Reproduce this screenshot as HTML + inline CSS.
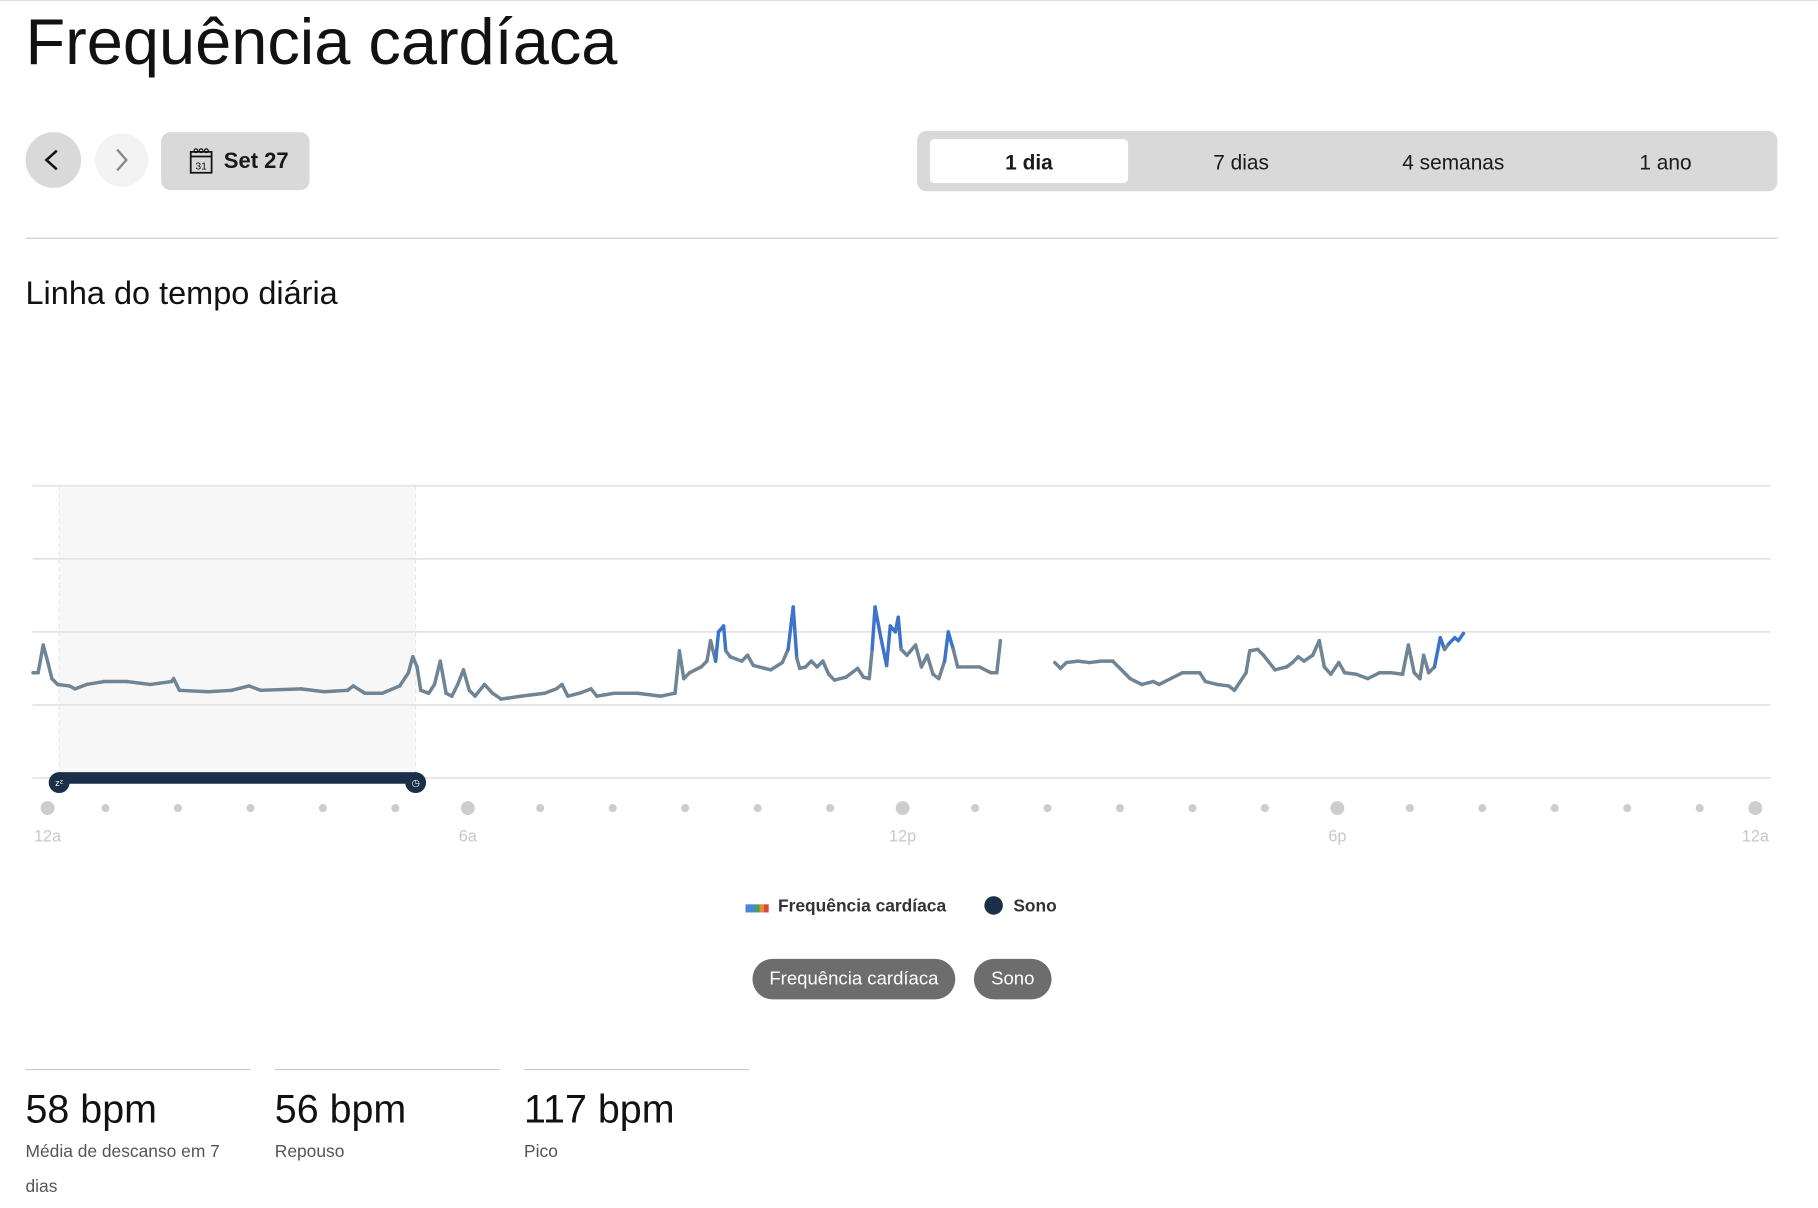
<!DOCTYPE html>
<html><head><meta charset="utf-8">
<style>
html,body{margin:0;padding:0;background:#fff;overflow:hidden}
body{width:1818px;height:1208px;position:relative;font-family:"Liberation Sans",sans-serif;color:#1a1a1a}
#root{position:absolute;left:0;top:0;width:1568px;height:1042px;transform:scale(1.1594);transform-origin:0 0}
.abs{position:absolute}
.seg{position:absolute;top:114px;height:52px;line-height:52px;font-size:18px;text-align:center;width:183px}
.stat-line{position:absolute;top:922px;height:1px;width:194px;background:#c8c8c8}
.stat-val{position:absolute;top:938px;font-size:34px;color:#111}
.stat-lab{position:absolute;top:979px;font-size:15px;color:#555;line-height:30px;width:194px}
</style></head><body>
<div id="root">
<div class="abs" style="left:0;top:0;width:1568px;height:1px;background:#e2e2e2"></div>
<div class="abs" style="left:22px;top:3px;font-size:56px;color:#111">Frequência cardíaca</div>

<div class="abs" style="left:22px;top:114px;width:48px;height:48px;border-radius:50%;background:#d9d9d9">
<svg width="48" height="48"><path d="M29 27 L20 19 L29 11" transform="translate(-2,5)" fill="none" stroke="#111" stroke-width="2.2"/></svg></div>
<div class="abs" style="left:82px;top:115px;width:46px;height:46px;border-radius:50%;background:#f3f3f3">
<svg width="46" height="46"><path d="M19 14 L27 23 L19 32" fill="none" stroke="#888" stroke-width="2"/></svg></div>
<div class="abs" style="left:139px;top:114px;width:128px;height:50px;border-radius:8px;background:#d9d9d9">
<svg class="abs" style="left:24px;top:13px" width="22" height="24"><rect x="1.5" y="4" width="18" height="18" fill="none" stroke="#111" stroke-width="1.5"/><line x1="1.5" y1="8" x2="19.5" y2="8" stroke="#111" stroke-width="1.5"/><circle cx="6" cy="3" r="1.6" fill="none" stroke="#111"/><circle cx="10.5" cy="3" r="1.6" fill="none" stroke="#111"/><circle cx="15" cy="3" r="1.6" fill="none" stroke="#111"/><text x="10.5" y="19" font-size="9" text-anchor="middle" font-family="Liberation Sans" fill="#111">31</text></svg>
<span class="abs" style="left:54px;top:15px;font-size:19px;font-weight:bold">Set 27</span></div>

<div class="abs" style="left:791px;top:113px;width:742px;height:52px;border-radius:8px;background:#d9d9d9"></div>
<div class="abs" style="left:802px;top:120px;width:171px;height:38px;border-radius:4px;background:#fff"></div>
<div class="seg" style="left:796px;font-weight:bold">1 dia</div>
<div class="seg" style="left:979px">7 dias</div>
<div class="seg" style="left:1162px">4 semanas</div>
<div class="seg" style="left:1345px">1 ano</div>

<div class="abs" style="left:22px;top:205px;width:1511px;height:1px;background:#c8c8c8"></div>
<div class="abs" style="left:22px;top:237px;font-size:28px;color:#111">Linha do tempo diária</div>

<svg id="chart" class="abs" style="left:0;top:400px" width="1568" height="340"></svg>

<div class="abs" style="left:643px;top:780px;width:20px;height:7px;background:linear-gradient(90deg,#4a86d8 0 40%,#4aa05a 40% 60%,#e08a3a 60% 80%,#d84a3a 80%)"></div>
<div class="abs" style="left:671px;top:773px;font-size:15px;font-weight:bold;color:#333">Frequência cardíaca</div>
<div class="abs" style="left:849px;top:773px;width:16px;height:16px;border-radius:50%;background:#1b3048"></div>
<div class="abs" style="left:874px;top:773px;font-size:15px;font-weight:bold;color:#333">Sono</div>

<div class="abs" style="left:649px;top:827px;width:175px;height:35px;border-radius:18px;background:#6d6d6d;color:#fff;font-size:16px;line-height:35px;text-align:center">Frequência cardíaca</div>
<div class="abs" style="left:840px;top:827px;width:67px;height:35px;border-radius:18px;background:#6d6d6d;color:#fff;font-size:16px;line-height:35px;text-align:center">Sono</div>

<div class="stat-line" style="left:22px"></div>
<div class="stat-line" style="left:237px"></div>
<div class="stat-line" style="left:452px"></div>
<div class="stat-val" style="left:22px">58 bpm</div>
<div class="stat-val" style="left:237px">56 bpm</div>
<div class="stat-val" style="left:452px">117 bpm</div>
<div class="stat-lab" style="left:22px">Média de descanso em 7 dias</div>
<div class="stat-lab" style="left:237px">Repouso</div>
<div class="stat-lab" style="left:452px">Pico</div>
</div>
<script>
const hours=[0,0.07,0.14,0.2,0.26,0.34,0.5,0.58,0.74,0.98,1.3,1.62,1.91,1.94,2.02,2.42,2.74,2.98,3.14,3.7,4.02,4.34,4.42,4.58,4.82,5.06,5.18,5.24,5.3,5.35,5.46,5.54,5.62,5.7,5.78,5.86,5.94,6.02,6.1,6.23,6.34,6.46,6.74,7.06,7.22,7.3,7.38,7.54,7.7,7.78,8.02,8.34,8.66,8.86,8.92,8.98,9.06,9.14,9.22,9.3,9.35,9.42,9.46,9.53,9.56,9.62,9.78,9.86,9.94,10.1,10.18,10.34,10.42,10.49,10.54,10.58,10.66,10.74,10.82,10.9,10.98,11.06,11.22,11.38,11.46,11.54,11.58,11.62,11.7,11.78,11.83,11.9,11.94,11.98,12.06,12.18,12.26,12.34,12.42,12.5,12.58,12.63,12.7,12.76,12.9,13.06,13.22,13.3,13.35,13.7,
14.1,14.18,14.26,14.42,14.58,14.74,14.9,14.98,15.06,15.14,15.22,15.3,15.46,15.54,15.7,15.86,16.1,16.18,16.34,16.5,16.58,16.66,16.74,16.79,16.9,16.98,17.06,17.14,17.3,17.38,17.46,17.54,17.66,17.75,17.82,17.91,18.02,18.1,18.26,18.42,18.58,18.74,18.9,18.98,19.06,19.14,19.19,19.26,19.34,19.42,19.48,19.54,19.62,19.67,19.74];
const bpm=[72,72,91,80,68,64,63,61,64,66,66,64,66,68,60,59,60,63,60,61,59,60,63,58,58,63,72,83,76,60,58,64,80,58,56,64,74,60,56,64,58,54,56,58,61,64,56,58,61,56,58,58,56,58,87,68,72,74,76,80,94,80,100,104,87,83,80,84,77,75,74,79,88,117,82,75,76,80,76,80,71,67,69,75,69,68,88,117,96,77,104,100,110,88,84,91,76,84,71,68,80,100,88,76,76,76,72,72,94,null,
79,75,79,80,79,80,80,76,72,68,66,64,66,64,68,72,72,66,64,63,60,66,72,87,88,84,79,74,76,79,83,80,84,94,76,71,79,72,71,68,72,72,71,91,72,68,84,72,76,96,88,92,96,94,99];
const gridVals=[0,50,100,150,200];
const xTickLabels=["12a","6a","12p","6p","12a"];
const xTickHours=[0,6,12,18,24];
const sleepStart=0.36, sleepEnd=5.28;

const NS="http://www.w3.org/2000/svg";
const svg=document.getElementById('chart');
const OY=400;
function xs(h){return 28.5+62.5*h;}
function ys(v){return 671-1.26*v-OY;}
function mk(t,a,p){const e=document.createElementNS(NS,t);for(const k in a)e.setAttribute(k,a[k]);(p||svg).appendChild(e);return e;}

const shade=mk('rect',{x:xs(sleepStart),y:ys(200),width:xs(sleepEnd)-xs(sleepStart),height:ys(0)-ys(200),fill:'#f7f7f7'});


[sleepStart,sleepEnd].forEach(h=>{
 const l=mk('line',{x1:xs(h),x2:xs(h),y1:ys(200),y2:ys(0),stroke:'#e6e6e6','stroke-dasharray':'4 3'});
 
 
});
gridVals.forEach(v=>{
 const g=mk('line',{x1:28,x2:1527,y1:ys(v),y2:ys(v),stroke:'#e4e4e4','stroke-width':1.5});
 
 
});
for(let i=0;i<hours.length-1;i++){
 if(bpm[i]==null||bpm[i+1]==null)continue;
 const hi=Math.max(bpm[i],bpm[i+1])>=95;
 const s=mk('line',{x1:xs(hours[i]),y1:ys(bpm[i]),x2:xs(hours[i+1]),y2:ys(bpm[i+1]),stroke:hi?'#3c74c9':'#6f8494','stroke-width':3,'stroke-linecap':'round'});
 
 
}
const sb=mk('rect',{x:xs(sleepStart),y:ys(0)-5,width:xs(sleepEnd)-xs(sleepStart),height:10,fill:'#1b3048'});


[sleepStart,sleepEnd].forEach((h,i)=>{
 const c=mk('circle',{cx:xs(h),cy:ys(0)+4,r:9,fill:'#1b3048'});
 
 
 const t=mk('text',{x:xs(h),y:ys(0)+7,'font-size':8,'text-anchor':'middle',fill:'#fff','font-family':'Liberation Sans'});
 t.textContent=i?'◷':'zᶻ';
 
 
});
for(let h=0;h<=24;h++){
 const major=h%6===0;
 let x=xs(h); if(h===0)x=41; if(h===24)x=1514; if(h===1)x=91;
 const d=mk('circle',{cx:x,cy:297,r:major?6:3.5,fill:'#cdcdcd'});
 
 
}
xTickHours.forEach((h,i)=>{
 let x=xs(h); if(h===0)x=41; if(h===24)x=1514;
 const t=mk('text',{x:x,y:326,'font-size':14,'text-anchor':'middle',fill:'#c8c8c8','font-family':'Liberation Sans'});
 t.textContent=xTickLabels[i];
 
 
});
</script>
</body></html>
